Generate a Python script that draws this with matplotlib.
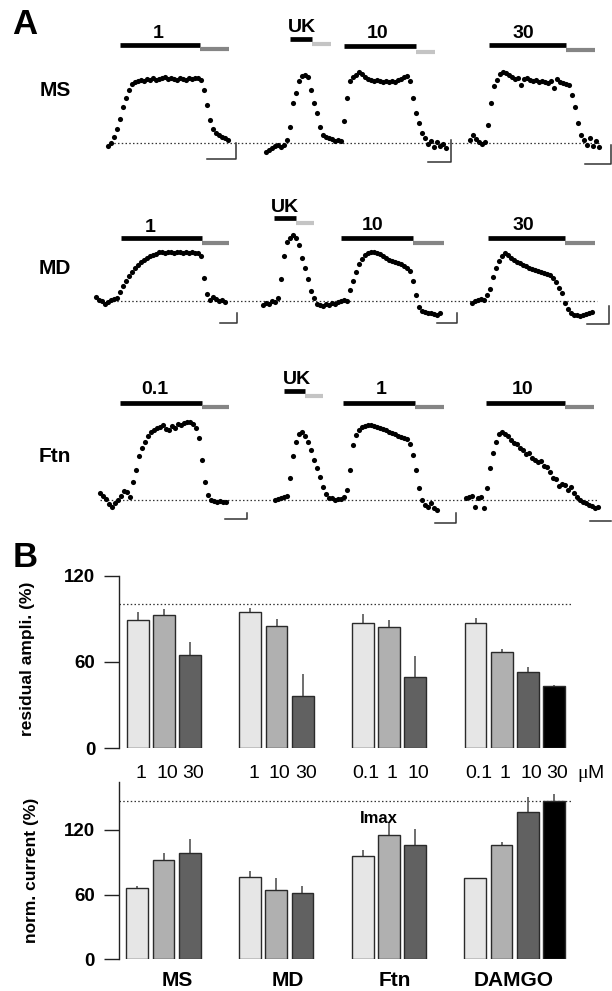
import numpy as np
import matplotlib
matplotlib.use("Agg")
import matplotlib.pyplot as plt

plt.rcParams['font.family'] = ['Liberation Sans', 'DejaVu Sans']

# ---------------- DATA ----------------
# Panel A: current traces, amplitude above baseline (arbitrary units), evenly sampled
ms_1 = [-3, 0, 6, 14, 24, 36, 45, 53, 59, 61, 62, 63, 62, 64, 63, 65, 63, 64, 65, 66, 64,
        65, 64, 63, 65, 64, 63, 65, 64, 65, 65, 63, 53, 38, 23, 14, 10, 8, 6, 5, 3]
ms_uk = [-9, -7, -5, -3, -2, -4, -2, 3, 16, 40, 50, 62, 67, 68, 66, 53, 40, 30, 16, 8, 6,
         5, 4, 2, 3]
ms_10 = [2, 22, 45, 62, 66, 68, 71, 69, 66, 64, 63, 62, 63, 62, 61, 62, 61, 62, 61, 63, 64,
         66, 67, 62, 45, 30, 20, 10, 5, -1, 2, -4, 1, -3, -1, -5]
ms_30 = [3, 8, 4, 1, -1, 1, 18, 40, 57, 63, 69, 71, 70, 68, 66, 64, 65, 58, 64, 65, 63, 62,
         63, 61, 62, 61, 60, 62, 55, 64, 61, 60, 59, 58, 48, 36, 20, 8, 3, -2, 5, -3, 2, -4]
md_1 = [4, 1, 0, -3, -1, 1, 2, 3, 9, 15, 20, 25, 29, 33, 36, 39, 41, 43, 45, 46, 47, 49, 49,
        48, 49, 49, 48, 49, 49, 48, 49, 48, 49, 48, 48, 45, 23, 7, 1, 4, 2, 0, 1, -1]
md_uk = [-4, -2, -3, 0, -1, 3, 22, 45, 59, 63, 66, 63, 56, 43, 33, 22, 10, 3, -3, -4, -5,
         -3, -4, -2, -3, -1]
md_10 = [0, 1, 0, 11, 20, 29, 37, 42, 46, 48, 49, 49, 48, 47, 45, 43, 41, 40, 39, 38, 37,
         35, 33, 30, 20, 6, -6, -10, -11, -12, -12, -13, -14, -12]
md_30 = [-2, 0, 1, 2, 1, 6, 12, 24, 33, 40, 45, 48, 46, 43, 41, 39, 38, 36, 35, 33, 32, 31,
         30, 29, 28, 27, 26, 23, 19, 13, 8, -2, -8, -12, -14, -14, -15, -14, -13, -12, -11]
ftn_01 = [7, 4, 1, -4, -7, -3, 0, 4, 9, 8, 3, 18, 30, 44, 52, 58, 64, 68, 70, 72, 73, 75,
          71, 70, 74, 72, 76, 75, 77, 78, 78, 76, 72, 62, 40, 18, 5, 0, -1, -2, -1, -2, -2]
ftn_uk = [0, 1, 2, 3, 4, 22, 44, 58, 66, 68, 64, 58, 50, 40, 32, 23, 13, 6, 2, 2, 0, 1]
ftn_1 = [1, 3, 10, 30, 55, 65, 70, 73, 74, 75, 75, 74, 73, 72, 71, 70, 68, 67, 66, 64, 63,
         62, 61, 56, 45, 30, 12, 0, -5, -7, -3, -8, -10]
ftn_10 = [2, 3, 4, -7, 2, 3, -8, 12, 32, 47, 58, 66, 68, 66, 64, 60, 57, 56, 52, 50, 46, 47,
          42, 40, 38, 39, 34, 33, 28, 22, 21, 14, 16, 15, 10, 13, 7, 3, 0, -2, -3, -5, -6,
          -8, -7]

row_names = ["MS", "MD", "Ftn"]
ms_doses = ["1", "UK", "10", "30"]
md_doses = ["1", "UK", "10", "30"]
ftn_doses = ["0.1", "UK", "1", "10"]

# Panel B
groups = ["MS", "MD", "Ftn", "DAMGO"]
conc_labels = [["1", "10", "30"], ["1", "10", "30"], ["0.1", "1", "10"], ["0.1", "1", "10", "30"]]
resid_mean = [[89.0, 92.9, 64.9], [94.6, 85.2, 36.7], [87.3, 84.1, 49.3], [87.3, 66.8, 53.2, 43.2]]
resid_err = [[6.0, 4.0, 9.1], [3.0, 4.5, 15.1], [5.9, 4.9, 14.7], [3.1, 2.1, 3.1, 0.9]]
norm_mean = [[66.2, 92.3, 98.5], [76.3, 64.3, 61.2], [96.0, 115.4, 105.8], [75.1, 106.5, 136.9, 146.8]]
norm_err = [[2.1, 6.2, 12.9], [5.2, 11.1, 7.1], [5.5, 12.3, 14.8], [0.5, 2.1, 13.9, 6.4]]
resid_ref = 100
imax_ref = 147

# ---------------- FIGURE ----------------
W, H = 612, 991
fig = plt.figure(figsize=(W / 100, H / 100), dpi=100)
axA = fig.add_axes([0, 0, 1, 1])
axA.set_xlim(0, W)
axA.set_ylim(H, 0)
axA.axis('off')

axA.text(24.5, 24.5, "A", fontsize=25, fontweight='bold', ha='center', va='center')
axA.text(24.7, 557.5, "B", fontsize=25, fontweight='bold', ha='center', va='center')

DARKG = '#858585'
LIGHTG = '#c4c4c4'

rows = [
    dict(base=143, label_xy=(55, 90), dot=(110, 600),
         traces=[ms_1, ms_uk, ms_10, ms_30], doses=ms_doses,
         spans=[(108, 228), (266, 338), (341, 446), (470, 599)],
         lab=[(158, 33), (302, 27), (378, 33), (523, 33)],
         black=[(120, 200, 45), (290, 312, 39), (344, 416, 46), (489, 566, 45)],
         gray=[(200, 229, 49, DARKG), (312, 331, 44, LIGHTG), (416, 435, 52, LIGHTG), (566, 595, 50, DARKG)],
         scale=[(207, 236, 159, 143), None, (428, 451, 162, 140), (585, 611, 164, 145)]),
    dict(base=301, label_xy=(55, 269), dot=(98, 597),
         traces=[md_1, md_uk, md_10, md_30], doses=md_doses,
         spans=[(96, 225), (263, 338), (341, 440), (472, 592)],
         lab=[(150, 227), (285, 207), (373, 225), (523, 225)],
         black=[(121, 202, 238), (274, 296, 218), (341, 413, 238), (488, 565, 238)],
         gray=[(202, 229, 243, DARKG), (296, 314, 223, LIGHTG), (413, 444, 243, DARKG), (565, 595, 243, DARKG)],
         scale=[(220, 237, 323, 313), None, (437, 457, 323, 313), (587, 609, 324, 306)]),
    dict(base=500, label_xy=(55, 456), dot=(100, 597),
         traces=[ftn_01, ftn_uk, ftn_1, ftn_10], doses=ftn_doses,
         spans=[(100, 226), (275, 338), (341, 437), (466, 598)],
         lab=[(155, 390), (297, 379), (381, 390), (523, 390)],
         black=[(120, 202, 403), (284, 305, 391), (343, 415, 403), (486, 565, 403)],
         gray=[(202, 229, 407, DARKG), (305, 323, 396, LIGHTG), (415, 444, 407, DARKG), (565, 594, 407, DARKG)],
         scale=[(225, 247, 519, 513), None, (435, 456, 523, 513), (590, 611, 521, None)]),
]

for name, row in zip(row_names, rows):
    base = row['base']
    axA.text(*row['label_xy'], name, fontsize=15, fontweight='bold', ha='center', va='center')
    axA.plot(row['dot'], [base, base], linestyle=(0, (1.2, 1.8)), color='#333333', lw=0.9)
    for vals, (x0, x1), dose, (lx, ly), (bx0, bx1, by), (gx0, gx1, gy, gc), sc in zip(
            row['traces'], row['spans'], row['doses'], row['lab'], row['black'], row['gray'], row['scale']):
        v = np.asarray(vals, dtype=float)
        xs = np.linspace(x0, x1, len(v))
        axA.plot(xs, base - v, 'o', color='black', ms=3.7, mew=0)
        axA.text(lx, ly, dose, fontsize=14, fontweight='bold', ha='center', va='center')
        axA.plot([bx0, bx1], [by, by], color='black', lw=3.4, solid_capstyle='butt')
        axA.plot([gx0, gx1], [gy, gy], color=gc, lw=3.0, solid_capstyle='butt')
        if sc is not None:
            hx0, hx1, hy, vy = sc
            if vy is None:
                axA.plot([hx0, hx1], [hy, hy], color='#333333', lw=1.1)
            else:
                axA.plot([hx0, hx1, hx1], [hy, hy, vy], color='#333333', lw=1.1)

# ---------------- PANEL B ----------------
bar_colors = ['#e6e6e6', '#b0b0b0', '#616161', '#000000']
group_off = [0, 4.3, 8.6, 12.9]
xlim = (-0.70, 16.59)


def style_axis(ax, ymax):
    ax.set_xlim(*xlim)
    ax.set_ylim(0, ymax)
    for s in ['top', 'right', 'bottom']:
        ax.spines[s].set_visible(False)
    ax.spines['left'].set_linewidth(1.0)
    ax.spines['left'].set_color('#222222')
    ax.set_xticks([])
    ax.set_yticks([0, 60, 120])
    ax.tick_params(axis='y', direction='out', length=10.8, width=1.0, pad=6.5,
                   labelsize=13.5, color='#222222')
    for t in ax.get_yticklabels():
        t.set_fontweight('bold')
    ax.patch.set_alpha(0)


def draw_bars(ax, means, errs):
    for g, (m, e) in enumerate(zip(means, errs)):
        for i, (mv, ev) in enumerate(zip(m, e)):
            x = group_off[g] + i
            ax.vlines(x, mv, mv + ev, color='#555555', lw=1.2, zorder=2)
            ax.bar(x, mv, width=0.83, color=bar_colors[i], edgecolor='#2a2a2a', lw=1.0, zorder=3)


axB1 = fig.add_axes([119.3 / W, (H - 748.3) / H, 453 / W, 172.6 / H])
style_axis(axB1, 120)
axB1.axhline(resid_ref, color='#333333', lw=0.9, linestyle=(0, (1.2, 1.8)), zorder=1)
draw_bars(axB1, resid_mean, resid_err)
for g, labs in enumerate(conc_labels):
    for i, lab in enumerate(labs):
        axB1.text(group_off[g] + i + 0.12, -17.2, lab, fontsize=14, ha='center', va='center',
                  clip_on=False)
axB1.text(16.77, -17.2, "μ", fontsize=14, family='Liberation Serif', ha='left', va='center',
          clip_on=False)
axB1.text(17.17, -17.2, "M", fontsize=14, ha='left', va='center', clip_on=False)

axB2 = fig.add_axes([119.0 / W, (H - 959.3) / H, 453 / W, (959.3 - 781.5) / H])
style_axis(axB2, 165)
axB2.axhline(imax_ref, color='#333333', lw=0.9, linestyle=(0, (1.2, 1.8)), zorder=1)
draw_bars(axB2, norm_mean, norm_err)
axB2.text(9.2, 131, "Imax", fontsize=12, fontweight='bold', ha='center', va='center')
for x, g in zip([1.54, 5.73, 9.82, 14.36], groups):
    axB2.text(x, -19.5, g, fontsize=15, fontweight='bold', ha='center', va='center', clip_on=False)

fig.text(28 / W, 1 - 659 / H, "residual ampli. (%)", rotation=90, fontsize=12.5,
         fontweight='bold', ha='center', va='center')
fig.text(32 / W, 1 - 870 / H, "norm. current (%)", rotation=90, fontsize=12.5,
         fontweight='bold', ha='center', va='center')

fig.savefig("out.png", dpi=100)
